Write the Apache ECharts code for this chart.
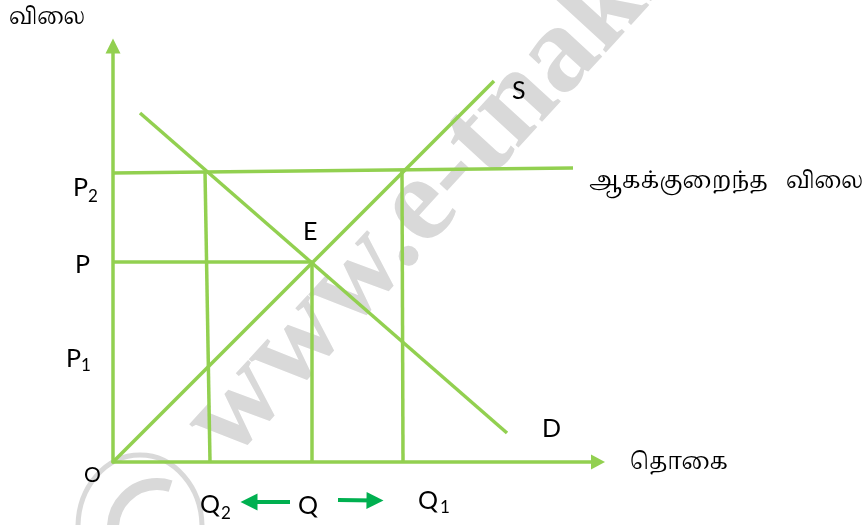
<!DOCTYPE html>
<html>
<head>
<meta charset="utf-8">
<script src="https://cdn.jsdelivr.net/npm/echarts@6/dist/echarts.min.js"></script>
<style>
  html, body { margin:0; padding:0; background:#ffffff; }
  #chart { width:868px; height:525px; }
</style>
</head>
<body>
<div id="chart"></div>
<script>
// Price-ceiling diagram. Units: quantity along x, price along y (origin O).
const supplyLine  = [[0, 0], [381, 381]];
const demandLine  = [[27, 349], [394, 29]];
const ceilingLine = [[0, 289], [460, 294]];
const priceLine   = [[0, 200], [199, 200]];
const q2Drop      = [[97, 0], [92, 291]];
const qDrop       = [[199, 0], [199, 200]];
const q1Drop      = [[290, 0], [289, 291]];
const shiftArrows = [[[177, -40], [136, -40]], [[225, -38], [262, -38.5]]];

const GREEN = '#92d050';
const ARROW = '#00b050';
const LATIN = "Lato, 'Open Sans', sans-serif";
const TAMIL = "'Noto Serif Tamil', 'Noto Sans Tamil', Latha, 'Lohit Tamil', 'Noto Sans', sans-serif";
const WMARK = '#d9d9d9';

const chart = echarts.init(document.getElementById('chart'), null, { renderer: 'canvas' });

// width of a string, used to stretch Tamil words to the reference width
const ctx = document.createElement('canvas').getContext('2d');
const measure = (text, size, family) => { ctx.font = size + 'px ' + family; return ctx.measureText(text).width; };

const seg = (name, data) => ({
  name, type: 'line', data, showSymbol: false, symbol: 'none', silent: true,
  clip: false, lineStyle: { color: GREEN, width: 3.5 }, z: 3
});

const axisBase = {
  type: 'value', min: 0, splitLine: { show: false },
  axisTick: { show: false }, axisLabel: { show: false }
};

const txt = (text, x, y, size, family) => ({
  type: 'text', x, y, z: 10,
  style: { text, fontSize: size, fontFamily: family, fill: '#000',
    textAlign: 'left', textVerticalAlign: 'middle' }
});
const tamil = (text, x, y, width) => {
  const t = txt(text, x, y, 23, TAMIL);
  t.scaleX = width / measure(text, 23, TAMIL);
  return t;
};

chart.setOption({
  animation: false,
  backgroundColor: '#ffffff',
  grid: { left: 113, right: 270, top: 46, bottom: 63 },
  xAxis: Object.assign({}, axisBase, { max: 485,
    axisLine: { show: true, onZero: false, symbol: ['none', 'triangle'], symbolSize: [15, 14],
      lineStyle: { color: GREEN, width: 3.5 } } }),
  yAxis: Object.assign({}, axisBase, { max: 416,
    axisLine: { show: true, onZero: false, symbol: ['none', 'triangle'], symbolSize: [15, 15],
      lineStyle: { color: GREEN, width: 3.5 } } }),
  series: [
    seg('S', supplyLine),
    seg('D', demandLine),
    seg('ceiling', ceilingLine),
    seg('P', priceLine),
    seg('Q2', q2Drop),
    seg('Q', qDrop),
    seg('Q1', q1Drop),
    {
      type: 'lines', coordinateSystem: 'cartesian2d', clip: false, silent: true,
      symbol: ['none', 'triangle'], symbolSize: [15, 17],
      lineStyle: { color: ARROW, width: 4, opacity: 1 },
      data: shiftArrows.map(c => ({ coords: c }))
    }
  ],
  graphic: [
    // watermark
    { type: 'text', x: 207, y: 441, rotation: 47.5 * Math.PI / 180, z: 0,
      style: { text: 'www.e-tnaksalvi.com', fontSize: 122, fontWeight: 'bold',
        fontFamily: "'Liberation Serif', 'DejaVu Serif', serif", fill: WMARK,
        textAlign: 'left', textVerticalAlign: 'middle' } },
    { type: 'ellipse', z: 0, shape: { cx: 140, cy: 527, rx: 62, ry: 72 },
      style: { fill: 'none', stroke: WMARK, lineWidth: 5 } },
    { type: 'arc', z: 0, shape: { cx: 157, cy: 528, r: 44, startAngle: Math.PI, endAngle: Math.PI * 1.6, clockwise: true },
      style: { fill: 'none', stroke: WMARK, lineWidth: 12 } },
    // axis titles
    tamil('விலை', 9, 20, 76),
    tamil('ஆகக்குறைந்த', 589, 184, 179),
    tamil('விலை', 786, 184, 77),
    tamil('தொகை', 630, 465, 98),
    // curve labels
    txt('S', 512, 91, 25, LATIN),
    txt('E', 303, 232, 25, LATIN),
    txt('D', 542, 429, 25, LATIN),
    // price labels
    txt('P', 73, 188, 25, LATIN), txt('2', 88, 197, 17, LATIN),
    txt('P', 75, 265, 25, LATIN),
    txt('P', 66, 359, 25, LATIN), txt('1', 81, 366, 17, LATIN),
    txt('O', 84, 475, 21, LATIN),
    // quantity labels
    txt('Q', 200, 505, 25, LATIN), txt('2', 221, 514, 17, LATIN),
    txt('Q', 298, 506, 25, LATIN),
    txt('Q', 418, 501, 25, LATIN), txt('1', 440, 508, 17, LATIN)
  ]
});
</script>
</body>
</html>
